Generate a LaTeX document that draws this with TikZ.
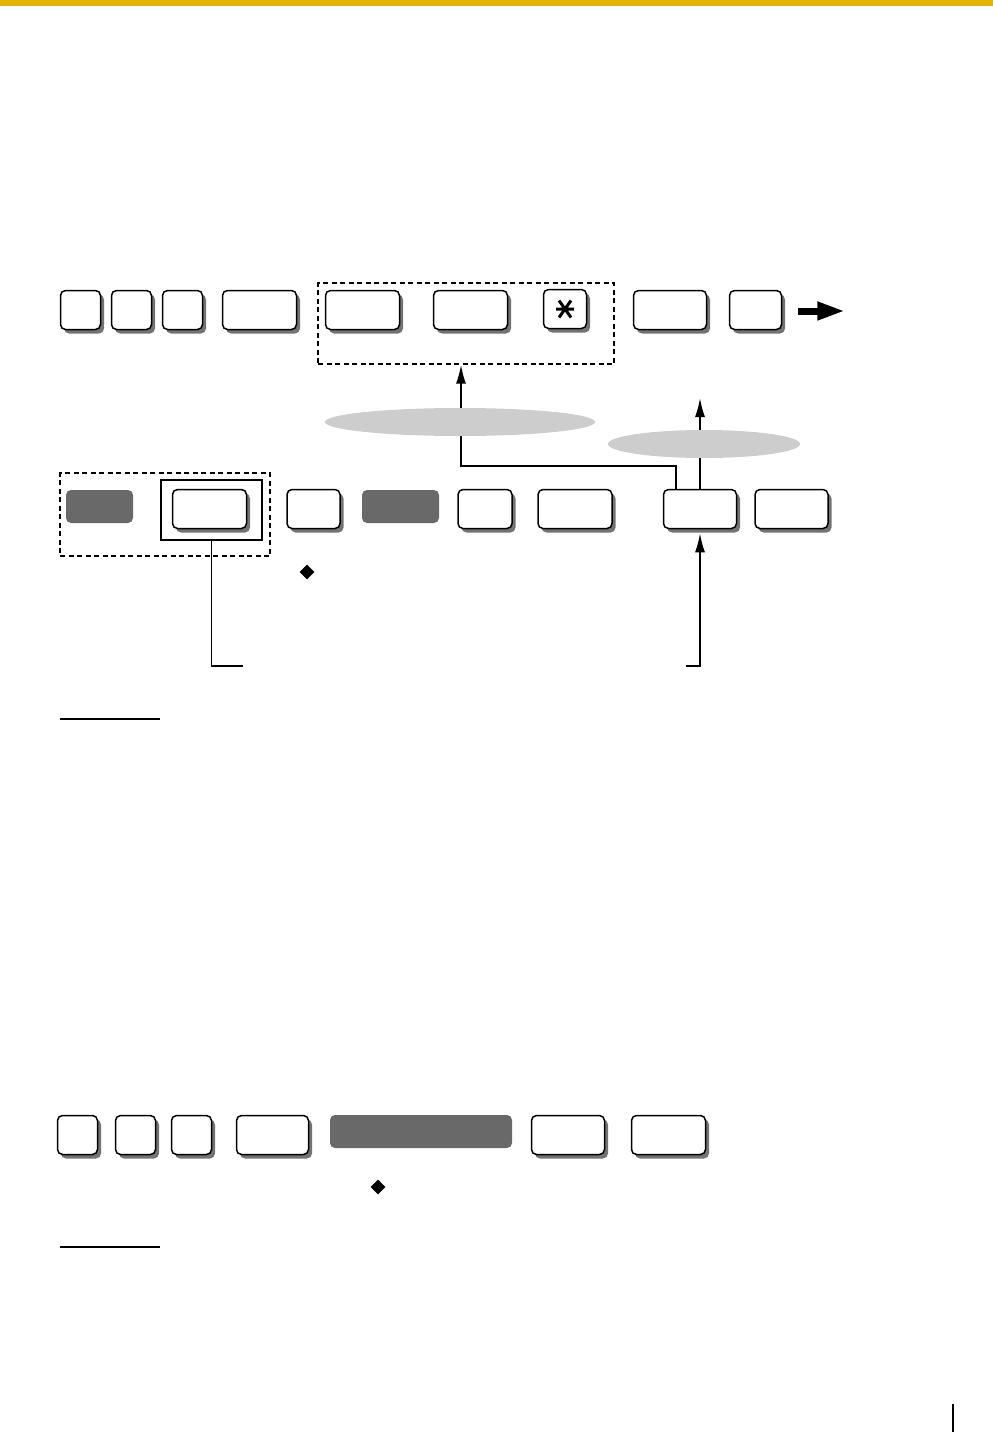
\documentclass[tikz,border=0pt]{standalone}
\usetikzlibrary{arrows.meta,shadows,shapes.geometric}
\definecolor{bargold}{RGB}{222,182,0}
\definecolor{softgray}{RGB}{105,105,105}
\definecolor{notegray}{RGB}{205,205,205}
\tikzset{
  key/.style={draw,line width=1.5pt,rounded corners=5pt,fill=white,inner sep=0pt,minimum height=39pt,
    drop shadow={shadow xshift=3.5pt,shadow yshift=-4pt,fill=black!55,opacity=1}},
  softkey/.style={fill=softgray,rounded corners=5pt,inner sep=0pt,minimum height=33pt},
  frame/.style={draw,line width=1.4pt,dash pattern=on 5pt off 3.5pt,inner sep=0pt},
  note/.style={ellipse,fill=notegray,inner sep=0pt,minimum height=28pt},
  link/.style={line width=1.7pt},
  up/.style={link,-{Latex[length=19pt,width=10pt]}},
  hint/.style={diamond,fill=black,inner sep=0pt,minimum size=15pt}
}
\begin{document}
\begin{tikzpicture}[x=1pt,y=-1pt]
\useasboundingbox (0,0) rectangle (993,1432);
\fill[bargold] (0,0) rectangle (993,6);
\node[key,minimum width=40pt] (a1) at (80.5,310) {};
\node[key,minimum width=40pt] (a2) at (131.5,310) {};
\node[key,minimum width=40pt] (a3) at (182.5,310) {};
\node[key,minimum width=74pt] (a4) at (259.5,310) {};
\node[frame,minimum width=296pt,minimum height=81pt] (grp1) at (466,323.5) {};
\node[key,minimum width=74pt] (a5) at (362.5,310) {};
\node[key,minimum width=74pt] (a6) at (470.5,310) {};
\node[key,minimum width=43pt] (a7) at (565,309) {};
\draw[line width=3pt,shift={(a7.center)}] (-9,0) -- (9,0) (-6,-8.5) -- (6,8.5) (-6,8.5) -- (6,-8.5);
\node[key,minimum width=73pt] (a8) at (670,310) {};
\node[key,minimum width=52pt] (a9) at (755.5,310) {};
\draw[line width=7pt,-{Triangle[length=28pt,width=17pt]}] ([xshift=16pt,yshift=-1pt]a9.east) -- ++(47,0);
\node[frame,minimum width=210pt,minimum height=83pt] (grp2) at (165,514.5) {};
\node[softkey,minimum width=67pt] (b1) at (99.5,506.5) {};
\node[draw,line width=1.5pt,inner sep=0pt,minimum width=101pt,minimum height=60pt] (pick) at (211.5,510) {};
\node[key,minimum width=74pt] (b2) at (209.5,509) {};
\node[key,minimum width=53pt] (b3) at (313.5,509) {};
\node[softkey,minimum width=77pt] (b4) at (400.5,506.5) {};
\node[key,minimum width=54pt] (b5) at (485,509) {};
\node[key,minimum width=74pt] (b6) at (575,509) {};
\node[key,minimum width=73pt] (b7) at (700,509) {};
\node[key,minimum width=73pt] (b8) at (791.5,509) {};
\coordinate (top) at (700,398);
\draw[up] (b7.north) -- (top);
\draw[up] ([xshift=-24pt]b7.north) -- ++(0,-22.5) -| ([xshift=-5pt]grp1.south);
\node[note,minimum width=270pt] (n1) at (460,422) {};
\node[note,minimum width=192pt] (n2) at (704,444) {};
\node[hint] (d1) at (307,572) {};
\coordinate (lend) at (243,666);
\draw[link] (pick.south) |- (lend);
\coordinate (rend) at (686,666);
\draw[up] (rend) -| ([yshift=-4pt]b7.south);
\draw[line width=1.2pt] (60,719) -- (160,719);
\node[key,minimum width=40pt] (c1) at (77.5,1135) {};
\node[key,minimum width=40pt] (c2) at (135.5,1135) {};
\node[key,minimum width=40pt] (c3) at (191.5,1135) {};
\node[key,minimum width=72pt] (c4) at (272.5,1135) {};
\node[softkey,minimum width=182pt] (c5) at (421,1131.5) {};
\node[key,minimum width=73pt] (c6) at (568,1135) {};
\node[key,minimum width=74pt] (c7) at (668.5,1135) {};
\node[hint] (d2) at (378,1187) {};
\draw[line width=1.2pt] (60,1247) -- (160,1247);
\draw[line width=1.5pt] (953,1404) -- (953,1432);
\end{tikzpicture}
\end{document}
